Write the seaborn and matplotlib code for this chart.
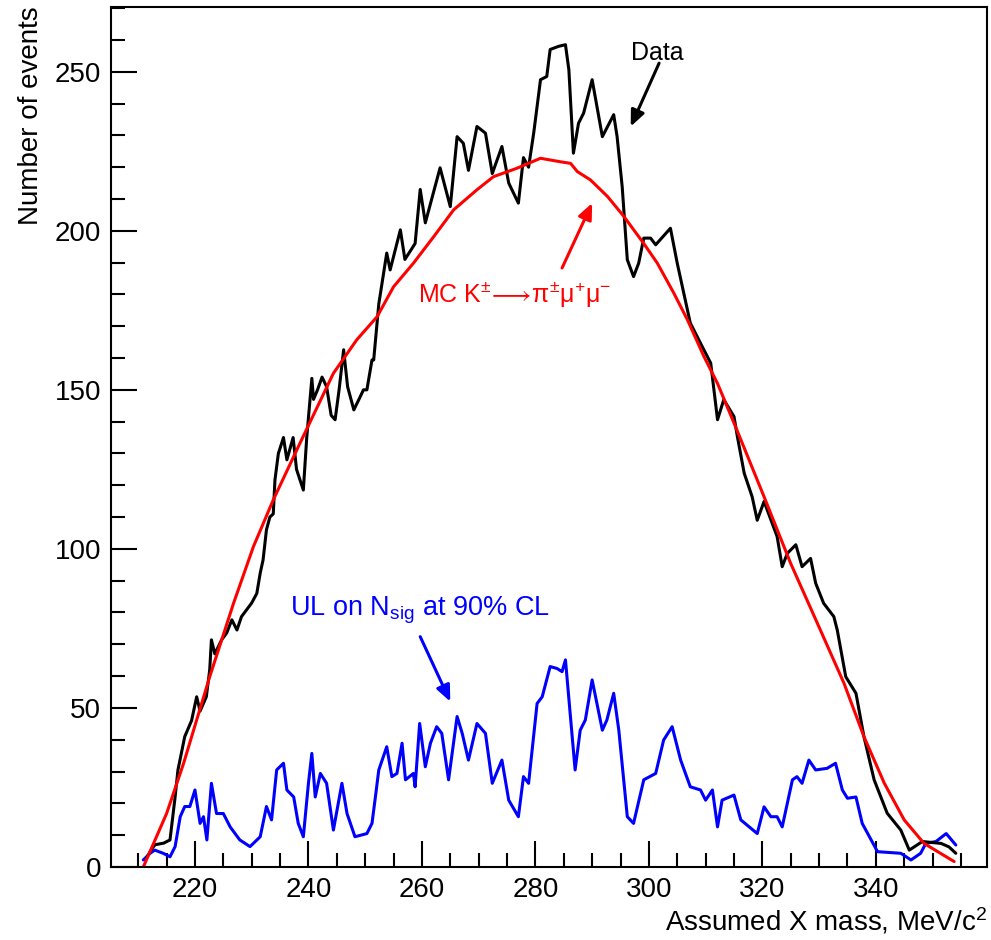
import matplotlib
matplotlib.use('Agg')
import matplotlib.pyplot as plt
from matplotlib.ticker import MultipleLocator
import seaborn as sns

# Data histogram (black)
data_x = [211.5, 212.5, 213.0, 214.5, 215.6, 216.5, 217.0, 218.2, 219.4, 220.3, 220.9, 222.0, 222.6,
          222.9, 223.5, 224.7, 225.6, 226.5, 227.4, 228.2, 230.0, 230.9, 231.5, 232.0, 232.6, 233.2,
          233.8, 234.1, 234.7, 235.6, 236.2, 237.3, 237.9, 239.1, 239.7, 240.6, 240.9, 241.6, 242.4,
          243.2, 244.0, 244.7, 245.4, 246.2, 246.9, 248.0, 248.9, 249.7, 250.3, 251.2, 251.5, 252.4,
          253.8, 254.4, 256.2, 257.0, 258.8, 259.7, 260.6, 263.2, 265.0, 266.2, 267.3, 268.2, 269.7,
          271.2, 272.4, 274.1, 275.3, 277.0, 277.9, 278.8, 279.7, 280.9, 282.0, 282.6, 284.1, 285.3,
          285.9, 286.7, 287.6, 288.5, 290.0, 291.8, 293.8, 294.4, 295.3, 296.2, 297.3, 298.2, 299.1,
          300.3, 301.2, 303.8, 305.0, 307.3, 309.4, 310.9, 312.1, 313.2, 315.0, 315.6, 316.8, 318.2,
          319.1, 320.3, 322.6, 323.5, 324.4, 325.9, 327.0, 328.5, 329.4, 330.8, 332.6, 333.2, 334.7,
          336.5, 337.9, 339.7, 342.0, 344.4, 345.9, 348.2, 351.5, 352.9, 354.1]
data_y = [3, 6, 7, 7.5, 8.5, 22, 30.5, 41, 46, 53.5, 49, 53.5, 62,
          71.4, 67, 71.4, 73.6, 77.7, 74.5, 78.7, 83, 86, 92.4, 96.5, 106, 110,
          111, 121.7, 130, 135, 128, 135, 125, 118.5, 135, 153.6, 147, 150, 154,
          151, 142, 140.6, 150, 162.6, 151, 143.7, 147, 150, 150, 159.4, 159.4, 177,
          193, 187.7, 200.3, 191, 196, 213, 202.5, 219.8, 207.6, 229.6, 227.5, 219, 232.8,
          230.7, 218, 226.5, 215, 208.7, 223, 220, 230.7, 247.5, 248.5, 257, 258, 258.5,
          250.6, 224.4, 233.8, 237, 247.5, 229.6, 236.5, 229.6, 213.8, 190.9, 185.6, 189.8, 197.7,
          197.7, 195.6, 200.8, 189.8, 171, 163.6, 158.4, 140.6, 146.9, 141.6, 135.3, 123.8, 116.4,
          109, 114.9, 103.9, 94.4, 98.6, 101.3, 94.4, 97, 89.2, 82.9, 78.7, 74.5, 59.8,
          54.6, 41, 27.4, 16.9, 11.6, 5.3, 8, 7.4, 6.3, 4.3]

# MC K -> pi mu mu (red)
mc_x = [210.9, 215.0, 218.0, 222.6, 226.8, 230.3, 233.8, 238.5, 244.4, 248.5, 252.1, 255.0, 258.5,
        262.1, 265.6, 269.7, 272.6, 276.8, 280.9, 284.4, 286.2, 287.4, 289.7, 292.7, 295.6, 299.1,
        301.5, 304.4, 306.8, 309.7, 312.1, 315.6, 320.3, 325.0, 329.7, 334.4, 337.9, 341.5, 345.0,
        348.5, 353.8]
mc_y = [0, 16.8, 32.6, 59.8, 82.9, 100.7, 115.4, 133.2, 155.2, 165.7, 173, 182.4, 189.8,
        198.2, 206.6, 212.9, 217, 219.7, 222.8, 221.7, 221.2, 218.6, 216, 210.8, 204.5, 196,
        189.8, 180.4, 172, 160.5, 152, 137, 116.4, 95.4, 76.6, 57.7, 41, 26.3, 14.8,
        7.4, 1.7]

# Upper limit on N_sig at 90% CL (blue)
ul_x = [210.9, 212.1, 212.9, 214.4, 215.6, 216.5, 217.4, 218.2, 219.1, 220.0, 220.9, 221.5, 222.1,
        222.9, 223.8, 225.0, 226.2, 227.9, 229.7, 231.5, 232.6, 233.5, 234.4, 235.6, 236.2, 237.4,
        238.2, 239.1, 240.0, 240.6, 241.2, 242.1, 243.2, 244.4, 245.9, 246.8, 248.2, 250.3, 251.2,
        251.8, 252.4, 253.8, 254.7, 255.6, 256.5, 257.1, 258.5, 258.8, 259.6, 260.6, 261.5, 262.6,
        263.5, 264.7, 266.2, 267.1, 268.2, 269.7, 271.2, 272.4, 274.1, 275.3, 277.0, 277.9, 278.8,
        280.3, 281.2, 282.6, 283.8, 284.7, 285.3, 287.0, 287.9, 288.8, 290.0, 291.8, 292.6, 293.8,
        294.7, 296.2, 297.3, 299.1, 301.2, 302.6, 304.1, 305.6, 307.3, 309.1, 310.0, 311.2, 312.1,
        312.9, 315.0, 316.2, 319.1, 320.3, 321.5, 322.6, 323.5, 325.3, 326.1, 327.0, 328.2, 329.4,
        331.4, 332.9, 334.1, 335.0, 336.5, 337.6, 340.3, 344.4, 346.2, 347.9, 348.8, 350.6, 352.4,
        354.1]
ul_y = [2.2, 4.3, 5.3, 4.3, 3.2, 6.4, 15.8, 19, 19, 24.2, 13.7, 15.8, 8.5,
        26.3, 16.8, 16.8, 12.6, 8.5, 6.4, 9.5, 19, 14.8, 30.5, 32.6, 24.2, 22,
        13.7, 9.5, 26.3, 35.7, 22, 29.4, 26.3, 11.6, 26.3, 16.8, 9.5, 10.5, 13.7,
        22, 30.5, 37.8, 28.4, 29.4, 38.9, 27.4, 29.4, 25.2, 45.1, 31.5, 38.9, 44.1,
        42, 27.4, 47.3, 42, 33.6, 45.1, 42, 26.3, 33.6, 21, 15.8, 28.4, 26.3,
        51.4, 53.5, 63, 62.4, 61.4, 65.1, 30.5, 43, 46.2, 58.8, 43, 46.2, 54.6,
        43, 15.8, 13.7, 27.4, 29.4, 39.9, 44.1, 33.6, 25.2, 24.2, 21, 24.2, 12.6,
        21, 22.6, 14.8, 10.5, 18.9, 15.8, 15.8, 12.6, 27.4, 28.4, 26.3, 33.6, 30.5,
        31, 32.6, 24.2, 21.6, 22, 13.7, 4.8, 4.3, 2.2, 4.3, 7.4, 8, 10.5,
        6.9]

sns.set_theme(style='ticks')
plt.rcParams['font.family'] = ['Liberation Sans', 'DejaVu Sans']
plt.rcParams['mathtext.fontset'] = 'custom'
plt.rcParams['mathtext.rm'] = 'Liberation Sans'
plt.rcParams['mathtext.it'] = 'Liberation Sans:italic'
plt.rcParams['mathtext.bf'] = 'Liberation Sans:bold'
plt.rcParams['mathtext.fallback'] = 'stixsans'

fig = plt.figure(figsize=(9.91, 9.40), dpi=100)
ax = fig.add_axes([0.112, 0.0777, 0.884, 0.915])

sns.lineplot(x=ul_x, y=ul_y, color='#0000ff', lw=2.2, ax=ax, sort=False, estimator=None)
sns.lineplot(x=data_x, y=data_y, color='black', lw=2.2, ax=ax, sort=False, estimator=None)
sns.lineplot(x=mc_x, y=mc_y, color='#ff0000', lw=2.2, ax=ax, sort=False, estimator=None)

ax.set_xlim(205.2, 359.6)
ax.set_ylim(0, 270.4)

ax.set_xticks(range(220, 341, 20))
ax.set_yticks(range(0, 251, 50))
ax.xaxis.set_minor_locator(MultipleLocator(5))
ax.yaxis.set_minor_locator(MultipleLocator(10))
ax.tick_params(which='major', direction='in', length=19, width=1.5, labelsize=20,
               top=False, right=False, pad=7, colors='black')
ax.tick_params(which='minor', direction='in', length=10, width=1.5,
               top=False, right=False, colors='black')
for sp in ax.spines.values():
    sp.set_linewidth(1.5)
    sp.set_color('black')

ax.set_xlabel('Assumed X mass, MeV/c$^{2}$', fontsize=20, loc='right', labelpad=2, color='black')
ax.set_ylabel('Number of events', fontsize=20, loc='top', labelpad=8, color='black')

# labels and arrows
arrow = '-|>,head_length=0.8,head_width=0.35'
ax.text(296.8, 253.6, 'Data', fontsize=18, color='black', ha='left', va='baseline')
ax.annotate('', xy=(296.8, 232.8), xytext=(301.8, 252.7),
            arrowprops=dict(arrowstyle=arrow, color='black', lw=2.2, shrinkA=0, shrinkB=0))

ax.text(259.3, 177.7, r'MC K$^{\pm}\!\longrightarrow\!$π$^{\pm}$μ$^{+}$μ$^{-}$', fontsize=18,
        color='#ff0000', ha='left', va='baseline')
ax.annotate('', xy=(290.0, 208.7), xytext=(284.7, 188.3),
            arrowprops=dict(arrowstyle=arrow, color='#ff0000', lw=2.2, shrinkA=0, shrinkB=0))

ax.text(236.8, 79.2, r'UL on N$_{\mathrm{sig}}$ at 90% CL', fontsize=19.5, color='#0000ff',
        ha='left', va='baseline')
ax.annotate('', xy=(265.0, 52.0), xytext=(259.7, 72.4),
            arrowprops=dict(arrowstyle=arrow, color='#0000ff', lw=2.2, shrinkA=0, shrinkB=0))

fig.savefig('out.png', dpi=100)
